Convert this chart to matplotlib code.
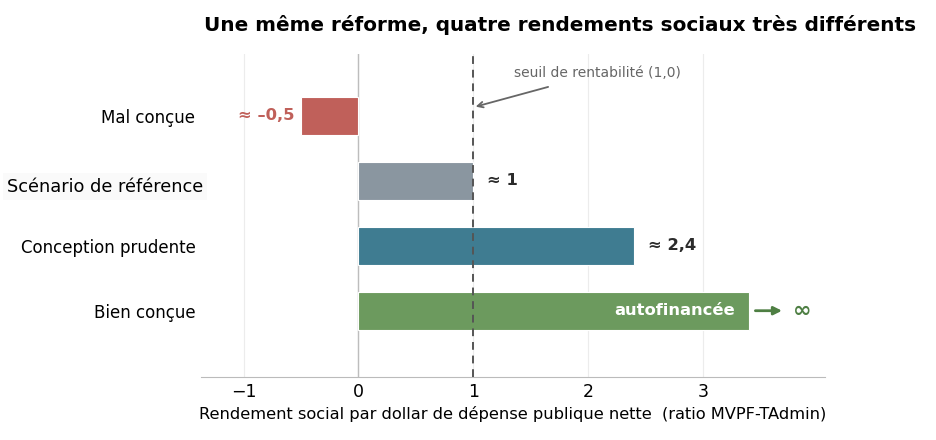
import matplotlib.pyplot as plt

# ---- data ----
categories = ['Mal conçue', 'Scénario de référence', 'Conception prudente', 'Bien conçue']
values = [-0.5, 1.0, 2.4, 3.4]
value_labels = ['≈ –0,5', '≈ 1', '≈ 2,4', 'autofinancée']
colors = ['#C0605A', '#8A96A0', '#3F7C91', '#6C9A5E']
threshold = 1.0

fig = plt.figure(figsize=(9.36, 4.4), dpi=100)
ax = fig.add_axes([201 / 936, 1 - 377 / 440, (825 - 201) / 936, (377 - 54) / 440])

pos = list(range(len(categories)))
ax.barh(pos, values, height=0.58, color=colors, edgecolor='white', linewidth=0.8, zorder=3)

ax.set_xlim(-1.37, 4.06)
ax.set_ylim(4.02, -0.95)

# grid, zero line, threshold
ax.set_xticks([-1, 0, 1, 2, 3])
ax.set_xticklabels(['−1', '0', '1', '2', '3'], fontsize=12.5)
ax.grid(axis='x', color='#ececec', linewidth=0.8, zorder=0)
ax.axvline(0, color='#bdbdbd', linewidth=1.0, zorder=2)
ax.axvline(threshold, color='#555555', linewidth=1.4, linestyle=(0, (4, 3)), zorder=4)

# y labels: the reference scenario is drawn apart, slightly larger, on a pale box
ax.set_yticks(pos)
ax.set_yticklabels([c if i != 1 else '' for i, c in enumerate(categories)], fontsize=12)
ax.tick_params(axis='both', length=0)
ax.tick_params(axis='y', pad=4)
ax.tick_params(axis='x', pad=4)
ax.text(0.003, pos[1] + 0.09, categories[1], transform=ax.get_yaxis_transform(),
        ha='right', va='center', fontsize=12.8,
        bbox=dict(facecolor='#fafafa', edgecolor='none', pad=3))

for s in ['top', 'right', 'left']:
    ax.spines[s].set_visible(False)
ax.spines['bottom'].set_color('#bbbbbb')

ax.set_xlabel('Rendement social par dollar de dépense publique nette  (ratio MVPF-TAdmin)',
              fontsize=11.7, labelpad=4)

# value labels
ax.text(values[0] - 0.06, pos[0], value_labels[0], ha='right', va='center',
        fontsize=11.8, fontweight='bold', color=colors[0])
ax.text(values[1] + 0.12, pos[1], value_labels[1], ha='left', va='center',
        fontsize=11.8, fontweight='bold', color='#2b2b2b')
ax.text(values[2] + 0.12, pos[2], value_labels[2], ha='left', va='center',
        fontsize=11.8, fontweight='bold', color='#2b2b2b')
ax.text(values[3] - 0.12, pos[3], value_labels[3], ha='right', va='center',
        fontsize=11.8, fontweight='bold', color='white', zorder=5)

# infinity arrow
ax.annotate('', xy=(values[3] + 0.31, pos[3]), xytext=(values[3] + 0.03, pos[3]),
            arrowprops=dict(arrowstyle='-|>', color='#4E7F43', lw=2, mutation_scale=12))
ax.text(values[3] + 0.38, pos[3], '∞', ha='left', va='center',
        fontsize=16, fontweight='bold', color='#4E7F43')

# threshold annotation
ax.annotate('seuil de rentabilité (1,0)', xy=(threshold + 0.02, -0.14),
            xytext=(2.08, -0.65), ha='center', va='center', fontsize=10, color='#666666',
            arrowprops=dict(arrowstyle='->', color='#666666', lw=1.3,
                            shrinkA=10, shrinkB=0))

fig.text(560 / 936, 1 - 25 / 440, 'Une même réforme, quatre rendements sociaux très différents',
         ha='center', va='center', fontsize=14.4, fontweight='bold')

fig.savefig('out.png', dpi=100)
